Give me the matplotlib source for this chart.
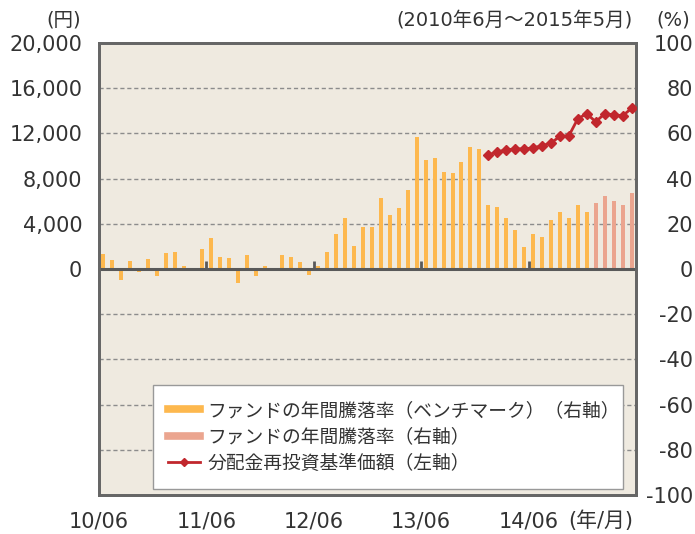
import matplotlib
matplotlib.use('Agg')
import matplotlib.pyplot as plt
import numpy as np
from matplotlib.lines import Line2D

# annual return of the benchmark (%, right axis), 2010/06 - 2014/12
bench = [6.5, 3.8, -5.0, 3.4, -1.5, 4.3, -3.3, 6.9, 7.4, 1.2,
         -1.0, 8.7, 13.5, 5.1, 4.7, -6.4, 6.0, -3.3, 1.2, -1.0,
         6.0, 5.1, 2.9, -2.8, 1.2, 7.4, 15.3, 22.4, 10.0, 18.4,
         18.8, 31.2, 24.1, 26.8, 35.1, 58.5, 48.4, 49.3, 43.1, 42.6,
         47.5, 54.1, 53.2, 28.5, 27.6, 22.4, 17.1, 9.6, 15.3, 14.0,
         21.5, 25.4, 22.4, 28.1, 25.4]
# annual return of the fund (%, right axis), 2015/01 - 2015/05
fund = [29.0, 32.5, 29.9, 28.1, 33.8]
# NAV with dividends reinvested (yen, left axis), 2014/01 - 2015/05
nav = [10100, 10360, 10540, 10630, 10630, 10720, 10900, 11160, 11730,
       11790, 13300, 13740, 13030, 13740, 13650, 13560, 14210]
year_labels = ['10/06', '11/06', '12/06', '13/06', '14/06']

orange = '#FDB84E'
pink = '#EBA58F'
red = '#C1272D'
txt = '#333333'

plt.rcParams['font.family'] = ['DejaVu Sans', 'Noto Sans CJK JP']
plt.rcParams['axes.unicode_minus'] = False

n = len(bench) + len(fund)
fig = plt.figure(figsize=(6.95, 5.34), dpi=100)
ax = fig.add_axes([99/695, 39/534, 537/695, 452/534])
ax.set_facecolor('#EFEAE0')
ax2 = ax.twinx()

x_bench = np.arange(len(bench)) + 0.5
x_fund = np.arange(len(bench), n) + 0.5
x_nav = np.arange(n - len(nav), n) + 0.5

ax.bar(x_bench, bench, width=0.45, color=orange, zorder=2)
ax.bar(x_fund, fund, width=0.45, color=pink, zorder=2)
for v in [-80, -60, -40, -20, 20, 40, 60, 80]:
    ax.axhline(v, color='#8C8C8C', ls=(0, (3, 2)), lw=1, zorder=1)
ax.axhline(0, color='#595959', lw=2.2, zorder=3)
ax.vlines(np.arange(12, n, 12), 0, 3.6, colors='#595959', lw=2, zorder=3)
ax.set_xlim(0, n)
ax.set_ylim(-100, 100)
ax.set_yticks(range(-100, 101, 20))
ax.yaxis.tick_right()
ax.tick_params(axis='y', length=0, pad=41, labelsize=15, colors=txt)
for lab in ax.get_yticklabels():
    lab.set_ha('right')
ax.set_xticks(np.arange(0, n - 1, 12))
ax.set_xticklabels(year_labels)
ax.tick_params(axis='x', length=0, pad=12, labelsize=15, colors=txt)

ax2.plot(x_nav, nav, color=red, lw=2, marker='D', ms=5, zorder=4)
ax2.set_ylim(-20000, 20000)
ax2.set_yticks(range(0, 20001, 4000))
ax2.set_yticklabels([f'{v:,}' for v in range(0, 20001, 4000)])
ax2.yaxis.tick_left()
ax2.tick_params(axis='y', length=0, pad=12, labelsize=15, colors=txt)

for a in (ax, ax2):
    for s in a.spines.values():
        s.set_color('#666666')
        s.set_linewidth(2)

handles = [Line2D([], [], color=orange, lw=5.5),
           Line2D([], [], color=pink, lw=5.5),
           Line2D([], [], color=red, lw=2, marker='D', ms=4.5)]
labels = ['ファンドの年間騰落率（ベンチマーク）（右軸）',
          'ファンドの年間騰落率（右軸）',
          '分配金再投資基準価額（左軸）']
leg = ax2.legend(handles, labels, loc='lower left',
                 bbox_to_anchor=(54/537, 6/452, 470/537, 0), mode='expand',
                 borderaxespad=0, fancybox=False, framealpha=1,
                 facecolor='white', edgecolor='#999999',
                 handlelength=1.7, handletextpad=0.4, labelspacing=0.3,
                 borderpad=0.8,
                 prop={'family': ['Noto Sans CJK JP', 'DejaVu Sans'], 'size': 13.5})
for t in leg.get_texts():
    t.set_color(txt)
leg.get_frame().set_linewidth(1)

fig.text(64/695, 1 - 20/534, '(円)', ha='center', va='center', size=14, color=txt)
fig.text(633/695, 1 - 20/534, '(2010年6月～2015年5月)', ha='right', va='center',
         size=14, color=txt)
fig.text(673/695, 1 - 20/534, '(%)', ha='center', va='center', size=14, color=txt)
fig.text(568/695, 1 - 521/534, '(年/月)', ha='left', va='center', size=15, color=txt)

fig.savefig('out.png', dpi=100)
